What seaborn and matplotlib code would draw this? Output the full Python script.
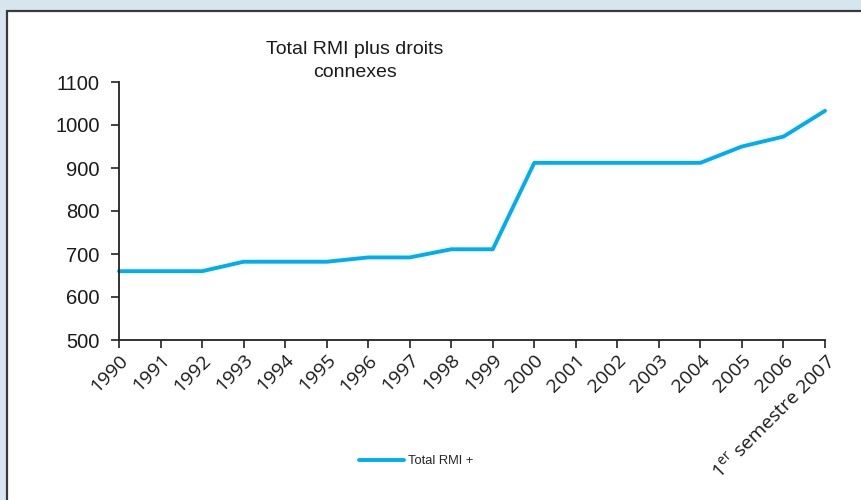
import numpy as np
import pandas as pd
import matplotlib
matplotlib.use("Agg")
import matplotlib.pyplot as plt
from matplotlib.patches import Rectangle
import seaborn as sns

years = ["1990", "1991", "1992", "1993", "1994", "1995", "1996", "1997", "1998",
         "1999", "2000", "2001", "2002", "2003", "2004", "2005", "2006",
         "1$^{\\mathrm{er}}$ semestre 2007"]
rmi_total = [660, 660, 660, 682, 682, 682, 692, 692, 711,
             711, 912, 912, 912, 912, 912, 950, 973, 1033]

sns.set_style("white")
plt.rcParams["font.family"] = ["Liberation Sans", "DejaVu Sans"]
plt.rcParams["mathtext.fontset"] = "custom"
plt.rcParams["mathtext.rm"] = "Open Sans"

df = pd.DataFrame({"pos": np.arange(len(years)), "val": rmi_total})

fig = plt.figure(figsize=(8.61, 5.0), dpi=100)
fig.patch.set_facecolor("#d6e5ee")
# white panel with dark frame
fig.patches.append(Rectangle((7 / 861, -0.1), 1.2, 1 - 11 / 500 + 0.1,
                             transform=fig.transFigure, facecolor="white",
                             edgecolor="#3a3a3a", lw=1.6, zorder=-5))

ax = fig.add_axes([119 / 861, 1 - 340 / 500, (825 - 119) / 861, (340 - 82) / 500])
ax.set_facecolor("none")
sns.lineplot(data=df, x="pos", y="val", ax=ax, color="#00aeef", lw=2.8,
             label="Total RMI +", legend=False, clip_on=False)

ax.set_xlim(0, len(years) - 1)
ax.set_ylim(500, 1100)
ax.set_yticks(range(500, 1101, 100))
ax.set_xticks(df["pos"])
ax.set_xticklabels(years, rotation=45, ha="right", rotation_mode="anchor",
                   family="Open Sans", fontsize=14)
ax.tick_params(axis="y", labelsize=14.5, length=6, width=1.2, direction="out",
               left=True, color="#222222", pad=8, labelcolor="#1a1a1a")
ax.tick_params(axis="x", length=6, width=1.2, direction="out", bottom=True,
               color="#222222", pad=2, labelcolor="#1a1a1a")
ax.set_xlabel("")
ax.set_ylabel("")
sns.despine(ax=ax)
for s in ["left", "bottom"]:
    ax.spines[s].set_color("#222222")
    ax.spines[s].set_linewidth(1.3)

fig.text(355 / 861, 1 - 61 / 500, "Total RMI plus droits\nconnexes", ha="center",
         va="center", fontsize=14, color="#1a1a1a", linespacing=1.5)

fig.legend(handles=ax.get_lines()[:1], labels=["Total RMI +"], loc="center left",
           bbox_to_anchor=(350 / 861, 1 - 461 / 500), frameon=False, fontsize=9.3,
           handlelength=3.5, handletextpad=0.3, borderpad=0.2)

fig.savefig("out.png", dpi=100, facecolor=fig.get_facecolor())
